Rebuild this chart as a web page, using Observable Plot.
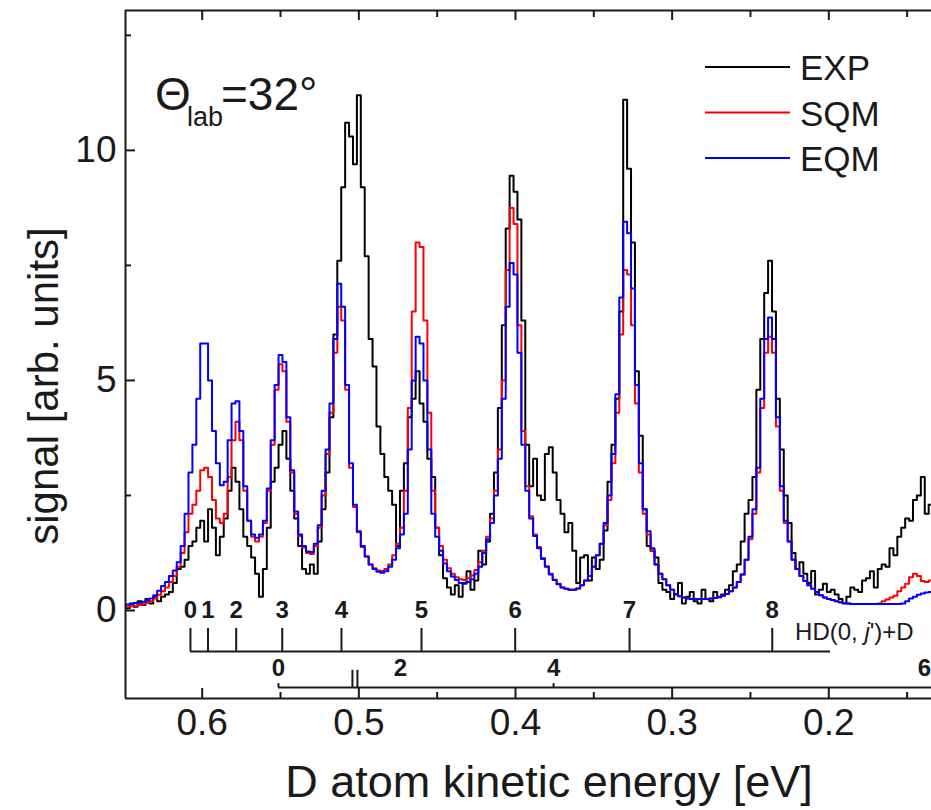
<!DOCTYPE html>
<html>
<head>
<meta charset="utf-8">
<script src="https://cdn.jsdelivr.net/npm/d3@7"></script>
<script src="https://cdn.jsdelivr.net/npm/@observablehq/plot@0.6"></script>
<style>
  html, body { margin: 0; padding: 0; background: #fff; overflow: hidden; }
  #chart { width: 931px; height: 810px; }
</style>
</head>
<body>
<div id="chart"></div>
<script>
// D-atom kinetic energy spectrum at a lab angle of 32 deg:
// measured signal (EXP) against two calculations (SQM, EQM).

// Energy bins, eV (high to low), shared by all three spectra
const binStart = 0.650, binWidth = 0.0025, binCount = 207;
const energy = d3.range(binCount).map(i => +(binStart - i * binWidth).toFixed(4));

const expSignal = [
  0.1, 0.05, 0.15, 0.08, 0.2, 0.12, 0.25, 0.15, 0.3, 0.2,
  0.3, 0.35, 0.4, 0.6, 0.9, 0.95, 1.1, 1.4, 1.5, 1.8,
  1.95, 1.5, 2.2, 1.8, 1.2, 1.6, 2.0, 2.6, 3.1, 2.8,
  2.2, 1.6, 1.4, 1.15, 0.8, 0.3, 0.9, 1.8, 2.8, 3.1,
  3.6, 3.9, 3.3, 2.6, 2.0, 1.4, 0.9, 0.8, 1.0, 0.8,
  1.5, 2.2, 3.0, 4.2, 6.0, 7.6, 9.2, 10.6, 10.3, 9.7,
  11.2, 9.2, 7.7, 5.9, 5.3, 4.0, 3.4, 2.9, 2.6, 2.3,
  1.4, 2.6, 3.2, 4.2, 4.6, 5.2, 4.5, 4.1, 3.3, 2.9,
  1.8, 1.2, 0.7, 0.5, 0.35, 0.55, 0.3, 0.6, 0.85, 0.45,
  0.65, 1.3, 1.0, 1.5, 2.1, 3.0, 4.4, 6.2, 8.3, 9.45,
  9.1, 8.5, 6.3, 3.6, 2.7, 3.3, 2.5, 2.4, 3.4, 3.55,
  3.0, 2.4, 2.1, 1.7, 1.9, 1.3, 0.6, 1.15, 1.2, 0.65,
  1.15, 0.9, 1.1, 1.74, 2.8, 3.6, 4.6, 6.5, 11.1, 9.6,
  8.0, 5.2, 3.8, 2.2, 1.4, 1.3, 1.15, 0.6, 0.45, 0.4,
  0.25, 0.35, 0.6, 0.15, 0.3, 0.4, 0.2, 0.15, 0.45, 0.25,
  0.2, 0.4, 0.3, 0.35, 0.45, 0.55, 0.85, 1.0, 1.5, 2.1,
  2.4, 2.9, 4.8, 5.9, 6.9, 7.6, 6.5, 4.6, 3.5, 2.5,
  1.9, 1.25, 0.9, 1.05, 0.8, 0.6, 0.86, 0.35, 0.45, 0.58,
  0.4, 0.45, 0.35, 0.25, 0.15, 0.3, 0.5, 0.45, 0.4, 0.65,
  0.7, 0.85, 0.5, 0.9, 1.0, 0.95, 1.35, 1.2, 1.6, 1.8,
  2.0, 1.95, 2.4, 2.5, 2.9, 2.1, 2.3
];

const sqmSignal = [
  0.07, 0.08, 0.09, 0.1, 0.12, 0.14, 0.16, 0.2, 0.26, 0.34,
  0.42, 0.5, 0.62, 0.75, 0.95, 1.25, 1.7, 2.1, 2.3, 2.6,
  3.05, 3.1, 2.9, 2.4, 2.0, 1.9, 2.1, 2.9, 3.7, 4.1,
  3.7, 2.6, 1.95, 1.6, 1.5, 1.6, 1.9, 2.6, 3.6, 4.8,
  5.35, 5.2, 4.1, 3.0, 2.1, 1.62, 1.37, 1.25, 1.23, 1.4,
  1.8, 2.5, 3.4, 4.3, 5.6, 6.6, 6.3, 4.8, 3.1, 2.25,
  1.7, 1.38, 1.17, 1.0, 0.92, 0.87, 0.86, 0.9, 1.0, 1.2,
  1.45, 1.8, 2.6, 4.4, 6.5, 8.0, 7.9, 6.3, 4.3, 2.6,
  1.8, 1.4, 1.1, 0.92, 0.8, 0.72, 0.68, 0.66, 0.7, 0.76,
  0.88, 1.05, 1.3, 1.6, 2.0, 2.6, 3.5, 5.0, 7.4, 8.75,
  8.4, 6.2, 3.9, 2.7, 2.05, 1.65, 1.38, 1.14, 0.96, 0.8,
  0.67, 0.58, 0.5, 0.47, 0.45, 0.45, 0.48, 0.55, 0.65, 0.75,
  0.95, 1.2, 1.45, 1.85, 2.4, 3.2, 4.3, 6.0, 7.4, 7.3,
  6.2, 4.5, 3.0, 2.1, 1.65, 1.3, 1.0, 0.8, 0.68, 0.55,
  0.45, 0.36, 0.31, 0.28, 0.26, 0.25, 0.25, 0.25, 0.25, 0.25,
  0.26, 0.27, 0.29, 0.32, 0.36, 0.42, 0.5, 0.62, 0.78, 1.1,
  1.55, 2.1, 3.0, 4.4, 5.6, 5.95, 5.6, 4.0, 2.6, 1.9,
  1.5, 1.1, 0.9, 0.75, 0.64, 0.55, 0.47, 0.4, 0.33, 0.28,
  0.25, 0.23, 0.2, 0.18, 0.16, 0.15, 0.14, 0.14, 0.14, 0.14,
  0.14, 0.14, 0.14, 0.15, 0.2, 0.24, 0.28, 0.32, 0.42, 0.5,
  0.58, 0.72, 0.8, 0.75, 0.64, 0.62, 0.65
];

const eqmSignal = [
  0.12, 0.13, 0.14, 0.16, 0.17, 0.19, 0.21, 0.26, 0.33, 0.43,
  0.53, 0.62, 0.75, 0.87, 1.05, 1.4, 2.1, 3.0, 3.6, 4.6,
  5.8, 5.8, 5.0, 3.9, 3.2, 2.72, 2.8, 3.7, 4.5, 4.55,
  3.9, 2.7, 1.95, 1.65, 1.58, 1.65, 1.95, 2.65, 3.7, 4.9,
  5.55, 5.4, 4.2, 3.05, 2.15, 1.65, 1.4, 1.28, 1.27, 1.45,
  1.85, 2.6, 3.5, 4.5, 5.9, 7.1, 6.6, 4.9, 3.2, 2.3,
  1.72, 1.4, 1.18, 1.0, 0.9, 0.84, 0.82, 0.85, 0.95, 1.1,
  1.35, 1.65, 2.1, 3.5, 5.0, 5.95, 5.8, 5.0, 3.5, 2.1,
  1.6, 1.3, 1.02, 0.85, 0.74, 0.66, 0.6, 0.58, 0.62, 0.68,
  0.8, 0.95, 1.25, 1.55, 1.9, 2.5, 3.3, 4.6, 6.6, 7.55,
  7.3, 5.6, 3.6, 2.6, 2.0, 1.62, 1.35, 1.12, 0.95, 0.78,
  0.66, 0.57, 0.5, 0.47, 0.45, 0.45, 0.48, 0.55, 0.65, 0.75,
  0.95, 1.2, 1.45, 1.9, 2.5, 3.4, 4.7, 6.8, 8.45, 8.2,
  7.0, 4.9, 3.2, 2.2, 1.72, 1.35, 1.0, 0.8, 0.68, 0.55,
  0.45, 0.36, 0.31, 0.28, 0.26, 0.25, 0.25, 0.25, 0.25, 0.25,
  0.26, 0.27, 0.29, 0.32, 0.36, 0.42, 0.5, 0.62, 0.78, 1.1,
  1.6, 2.2, 3.1, 4.6, 5.9, 6.37, 5.9, 4.2, 2.7, 1.95,
  1.5, 1.1, 0.9, 0.75, 0.64, 0.55, 0.47, 0.4, 0.33, 0.28,
  0.25, 0.23, 0.2, 0.18, 0.16, 0.15, 0.14, 0.14, 0.14, 0.14,
  0.14, 0.14, 0.14, 0.14, 0.14, 0.14, 0.14, 0.14, 0.14, 0.15,
  0.2, 0.26, 0.3, 0.34, 0.37, 0.39, 0.4
];

// Series names and colours
const seriesNames = ["EXP", "SQM", "EQM"];
const seriesColors = ["#000000", "#ff0000", "#0000ff"];

// Rotational comb of HD(v'=0, j') + D: D-atom energy (eV) and j' label
const hdEnergy = [0.6075, 0.5963, 0.5783, 0.5489, 0.5111, 0.4600, 0.4002, 0.3272, 0.2361];
const hdLabels = ["0", "1", "2", "3", "4", "5", "6", "7", "8"];
const hdCombEnd = 0.1989;

// Second comb (v'=1): labelled levels and tick positions
const v1LabelEnergy = [0.5513, 0.4734, 0.3757, 0.139];
const v1Labels = ["0", "2", "4", "6"];
const v1ShortTicks = [0.5513, 0.3757];
const v1TallTicks = [0.5041, 0.5009];

// Axis ticks
const xMajor = [0.6, 0.5, 0.4, 0.3, 0.2];
const xMinor = [0.55, 0.45, 0.35, 0.25, 0.15];
const yMajor = [0, 5, 10];
const yMinor = [2.5, 7.5, 12.5];

// Scale extents
const xDomain = [0.64896, 0.13444];
const yDomain = [-1.913, 13.04];

// Comb levels in signal units
const hdLabelY = 0.0, hdTickTop = -0.39, hdBase = -0.89;
const v1LabelY = -1.26, v1Base = -1.674, v1ShortTop = -1.59, v1TallTop = -1.30;

const rows = energy.map((e, i) => ({
  energy: e, EXP: expSignal[i], SQM: sqmSignal[i], EQM: eqmSignal[i]
}));

const W = 931, H = 810;
const mL = 125, mR = 0, mT = 10, mB = 112;
const frameW = W - mL - mR, frameH = H - mT - mB;
const font = "'Liberation Sans', Arial, Helvetica, sans-serif";
const ink = "#1a1a1a";

const chart = Plot.plot({
  width: W,
  height: H,
  marginLeft: mL,
  marginRight: mR,
  marginTop: mT,
  marginBottom: mB,
  style: { fontFamily: font, background: "#fff", color: ink },
  x: { domain: xDomain, label: null },
  y: { domain: yDomain, label: null },
  marks: [
    // spectra, measured first so the calculations sit on top
    ...seriesNames.map((name, k) =>
      Plot.line(rows, {
        x: "energy", y: name, curve: "step",
        stroke: seriesColors[k], strokeWidth: 2, clip: true
      })
    ),

    // HD(0, j')+D comb
    Plot.ruleY([hdBase], { x1: hdEnergy[0], x2: hdCombEnd, stroke: ink, strokeWidth: 2 }),
    Plot.ruleX(hdEnergy, { x: d => d, y1: hdBase, y2: hdTickTop, stroke: ink, strokeWidth: 2 }),
    Plot.text(hdEnergy, {
      x: d => d, y: hdLabelY, text: (d, i) => hdLabels[i],
      fontSize: 24, fontWeight: "bold", fill: ink
    }),

    // v'=1 comb
    Plot.ruleY([v1Base], { x1: v1LabelEnergy[0], x2: xDomain[1], stroke: ink, strokeWidth: 2 }),
    Plot.ruleX(v1ShortTicks, { x: d => d, y1: v1Base, y2: v1ShortTop, stroke: ink, strokeWidth: 2 }),
    Plot.ruleX(v1TallTicks, { x: d => d, y1: v1Base, y2: v1TallTop, stroke: ink, strokeWidth: 2 }),
    Plot.text(v1LabelEnergy, {
      x: d => d, y: v1LabelY, text: (d, i) => v1Labels[i],
      fontSize: 24, fontWeight: "bold", fill: ink
    }),

    // frame: left, top and bottom edges
    Plot.ruleX([xDomain[0]], { stroke: ink, strokeWidth: 2 }),
    Plot.ruleY([yDomain[0], yDomain[1]], { stroke: ink, strokeWidth: 2 }),

    // inward ticks
    Plot.tickX(xMajor, { x: d => d, insetTop: frameH - 10, stroke: ink, strokeWidth: 2 }),
    Plot.tickX(xMinor, { x: d => d, insetTop: frameH - 6, stroke: ink, strokeWidth: 2 }),
    Plot.tickX(xMajor, { x: d => d, insetBottom: frameH - 10, stroke: ink, strokeWidth: 2 }),
    Plot.tickX(xMinor, { x: d => d, insetBottom: frameH - 7, stroke: ink, strokeWidth: 2 }),
    Plot.tickY(yMajor, { y: d => d, insetRight: frameW - 10, stroke: ink, strokeWidth: 2 }),
    Plot.tickY(yMinor, { y: d => d, insetRight: frameW - 6, stroke: ink, strokeWidth: 2 }),

    // tick labels
    Plot.axisX({
      ticks: xMajor, anchor: "bottom", tickSize: 0, tickPadding: 10,
      fontSize: 37, tickFormat: d3.format(".1f"), label: null
    }),
    Plot.axisY({
      ticks: yMajor, anchor: "left", tickSize: 0, tickPadding: 9,
      fontSize: 37, label: null
    })
  ]
});

document.getElementById("chart").appendChild(chart);

// Annotations drawn on the same SVG
const svg = d3.select(chart);
const xs = chart.scale("x"), ys = chart.scale("y");

// axis titles
svg.append("text")
  .attr("x", 549).attr("y", 797)
  .attr("text-anchor", "middle")
  .attr("font-size", 45).attr("fill", ink).attr("font-family", font)
  .text("D atom kinetic energy [eV]");

svg.append("text")
  .attr("transform", "translate(58,386) rotate(-90)")
  .attr("text-anchor", "middle")
  .attr("font-size", 42).attr("fill", ink).attr("font-family", font)
  .text("signal [arb. units]");

// scattering angle
const angle = svg.append("g")
  .attr("fill", ink).attr("font-family", font).attr("text-anchor", "start");
angle.append("text").attr("x", 155).attr("y", 110).attr("font-size", 46).text("\u0398");
angle.append("text").attr("x", 187).attr("y", 126).attr("font-size", 27).text("lab");
angle.append("text").attr("x", 221).attr("y", 110).attr("font-size", 46).text("=32\u00b0");

// comb caption HD(0, j')+D
const hdCap = svg.append("text")
  .attr("x", xs.apply(0.2212)).attr("y", ys.apply(-0.478))
  .attr("dy", "0.35em")
  .attr("text-anchor", "start")
  .attr("font-size", 24).attr("fill", ink).attr("font-family", font);
hdCap.append("tspan").text("HD(0, ");
hdCap.append("tspan").attr("font-style", "italic").text("j");
hdCap.append("tspan").text("')+D");

// legend
const legend = svg.append("g")
  .attr("font-family", font).attr("text-anchor", "start");
seriesNames.forEach((name, k) => {
  const y = 67 + k * 45.5;
  legend.append("line")
    .attr("x1", 705).attr("x2", 790).attr("y1", y).attr("y2", y)
    .attr("stroke", seriesColors[k]).attr("stroke-width", 2);
  legend.append("text")
    .attr("x", 800).attr("y", y + 13)
    .attr("font-size", 35).attr("fill", ink)
    .text(name);
});
</script>
</body>
</html>
